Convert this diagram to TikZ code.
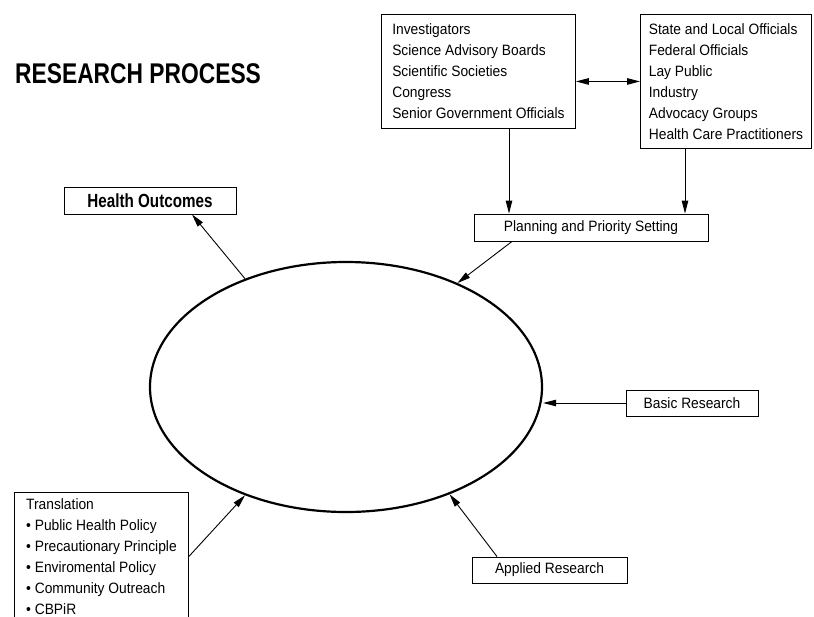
\documentclass[tikz,border=0pt]{standalone}
\usepackage{fontspec}
\setmainfont[FakeStretch=0.92]{Liberation Sans}
\newfontfamily\narrowfont[FakeStretch=0.8]{Liberation Sans}
\usetikzlibrary{arrows.meta, positioning, shapes.geometric}

\begin{document}
\begin{tikzpicture}[
  x=1pt, y=-1pt,
  font=\fontsize{15}{21}\selectfont,
  lst/.style={draw, line width=0.9pt, align=left, anchor=north west,
              inner sep=0pt},
  lbl/.style={draw, line width=0.9pt, align=center, inner sep=0pt,
              minimum height=26pt},
  a/.style={-{Triangle[length=13pt, width=6.5pt]}, line width=0.9pt},
  aa/.style={{Triangle[length=13pt, width=6.5pt]}-{Triangle[length=13pt, width=6.5pt]},
             line width=0.9pt}
]
\useasboundingbox (0,0) rectangle (814,616);

% ---- title ----
\node[anchor=base west, inner sep=0pt,
      font=\narrowfont\bfseries\fontsize{28.5}{30}\selectfont] (title) at (15,83)
  {RESEARCH PROCESS};

% ---- who sets the agenda ----
\node[lst, minimum width=194pt, minimum height=114pt] (inv) at (381,14)
  {Investigators\\Science Advisory Boards\\Scientific Societies\\Congress\\Senior Government Officials};
\node[lst, minimum width=171pt, minimum height=134pt] (off) at (640,14)
  {State and Local Officials\\Federal Officials\\Lay Public\\Industry\\Advocacy Groups\\Health Care Practitioners};
\node[lbl, minimum width=234pt, minimum height=27pt] (plan) at (591,227.5)
  {Planning and Priority Setting};

% ---- the cycle ----
\node[draw, ellipse, line width=2.2pt, inner sep=0pt,
      minimum width=392pt, minimum height=250pt] (cyc) at (346,387) {};

\node[lbl, minimum width=172pt, minimum height=27pt,
      font=\narrowfont\bfseries\fontsize{19}{20}\selectfont] (hlth) at (150,200.5)
  {Health Outcomes};
\node[lbl, minimum width=132pt] (basic) at (692,403) {Basic Research};
\node[lbl, minimum width=155pt] (appl) at (549.5,570) {Applied Research};
\node[lst, minimum width=174pt, minimum height=128pt] (trans) at (14,492)
  {Translation\\\textbullet\ Public Health Policy\\\textbullet\ Precautionary Principle\\
   \textbullet\ Enviromental Policy\\\textbullet\ Community Outreach\\\textbullet\ CBPiR};

% ---- connectors ----
\coordinate (ca) at (509,0);
\coordinate (cb) at (685,0);
\draw[aa] (off.west -| inv.east) -- (off.west);
\draw[a] (inv.south -| ca) -- (plan.north -| ca);
\draw[a] (off.south -| cb) -- (plan.north -| cb);
\draw[a] ([xshift=-79pt]plan.south) -- (cyc.43);
\draw[a] (cyc.133.6) -- ([xshift=42pt]hlth.south);
\draw[a] (basic.west) -- (basic.west -| cyc.east);
\draw[a] ([xshift=-52.5pt]appl.north) -- (cyc.-46.3);
\draw[a] (trans.east) -- (cyc.-133.4);

\end{tikzpicture}
\end{document}
